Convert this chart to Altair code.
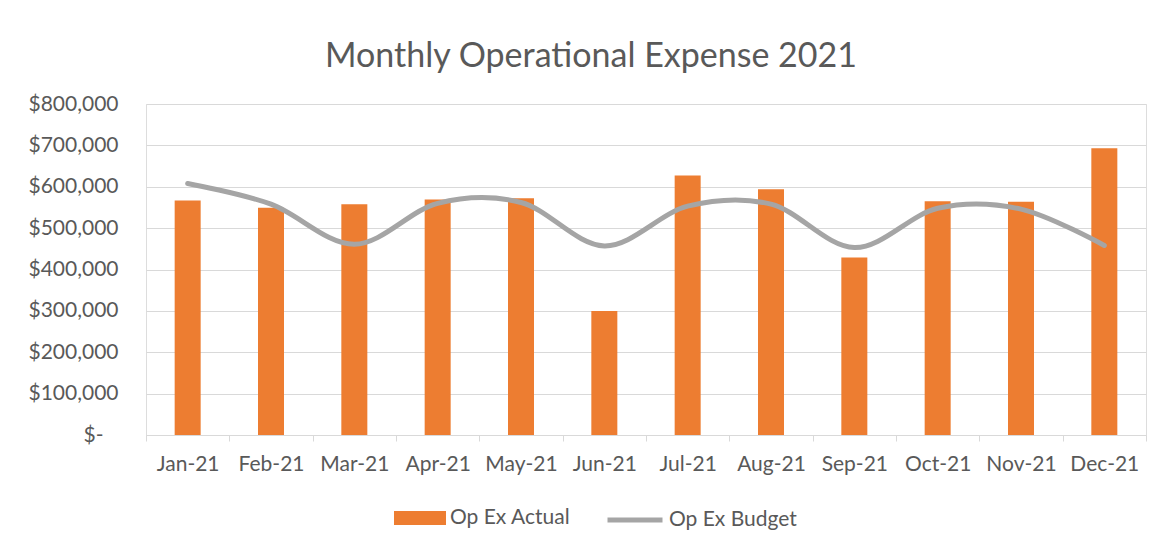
import altair as alt
import pandas as pd

months = ["Jan-21", "Feb-21", "Mar-21", "Apr-21", "May-21", "Jun-21",
          "Jul-21", "Aug-21", "Sep-21", "Oct-21", "Nov-21", "Dec-21"]
actual = [567000, 549000, 558000, 569000, 572000, 300000,
          627000, 594000, 429000, 565000, 564000, 693000]
budget = [608000, 558000, 461000, 560000, 562000, 457000,
          553000, 558000, 453000, 548000, 546000, 458000]
series_names = ["Op Ex Actual", "Op Ex Budget"]

df = pd.DataFrame({"Month": months, "Actual": actual, "Budget": budget})

FONT = "Lato"
TXT = "#595959"
GRID = "#D9D9D9"
LBL = 21

x = alt.X("Month:N", sort=months, title=None,
          scale=alt.Scale(paddingInner=0, paddingOuter=0),
          axis=alt.Axis(labelAngle=0, tickBand="extent", domainColor=GRID,
                        tickColor=GRID, tickSize=6, labelPadding=12,
                        labelFontSize=LBL, labelColor=TXT, labelFont=FONT))

yscale = alt.Scale(domain=[0, 800000], nice=False)
yaxis = alt.Axis(values=[0, 100000, 200000, 300000, 400000, 500000, 600000, 700000, 800000],
                 labelExpr="datum.value == 0 ? '$-\u2800' : '$' + format(datum.value, ',')",
                 domain=False, ticks=False, tickSize=0, labelPadding=28,
                 gridColor=GRID, gridWidth=1, labelFontSize=LBL, labelColor=TXT,
                 labelFont=FONT)

bars = alt.Chart(df).transform_calculate(
    s_a=f"'{series_names[0]}'"
).mark_bar(size=26).encode(
    x=x,
    y=alt.Y("Actual:Q", scale=yscale, axis=yaxis, title=None),
    fill=alt.Fill("s_a:N",
                  scale=alt.Scale(domain=[series_names[0]], range=["#ED7D31"]),
                  legend=alt.Legend(title=None, orient="none", legendX=248, legendY=388,
                                    symbolType="M-1,-0.27L1,-0.27L1,0.27L-1,0.27Z",
                                    symbolSize=2704, symbolStrokeWidth=0,
                                    labelFontSize=LBL, labelColor=TXT, labelFont=FONT,
                                    labelOffset=4, padding=0)),
)

line = alt.Chart(df).transform_calculate(
    s_b=f"'{series_names[1]}'"
).mark_line(interpolate="cardinal", strokeWidth=5, strokeCap="round").encode(
    x=x,
    y=alt.Y("Budget:Q", scale=yscale, title=None),
    stroke=alt.Stroke("s_b:N",
                      scale=alt.Scale(domain=[series_names[1]], range=["#A5A5A5"]),
                      legend=alt.Legend(title=None, orient="none", legendX=459, legendY=386,
                                        symbolType="stroke", symbolSize=3025,
                                        symbolStrokeWidth=5,
                                        labelFontSize=LBL, labelColor=TXT, labelFont=FONT,
                                        labelOffset=4, padding=0)),
)

chart = alt.layer(bars, line).properties(
    width=1000, height=331,
    title=alt.TitleParams("Monthly Operational Expense 2021", fontSize=34, font=FONT,
                          fontWeight="normal", color=TXT, anchor="middle", dx=-55,
                          offset=-15, baseline="bottom"),
    autosize=alt.AutoSizeParams(type="none"),
    padding={"left": 138, "top": 96, "right": 13, "bottom": 100},
).configure_view(stroke=None).configure(background="white")

chart.save("out.html", embed_options={"renderer": "svg", "actions": False})
